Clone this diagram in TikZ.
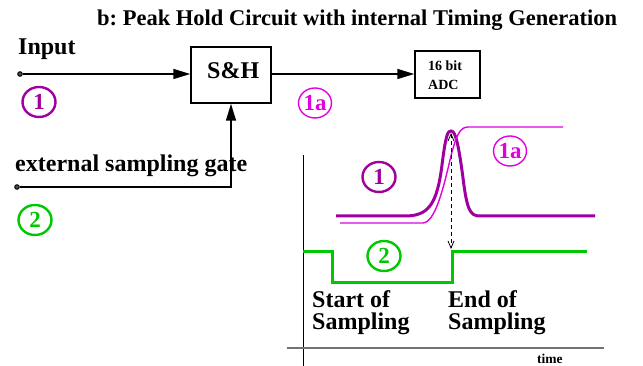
\documentclass[tikz,border=0pt]{standalone}
\usepackage{fontspec}
\setmainfont{Liberation Serif}
\usetikzlibrary{arrows.meta,shapes.geometric}
\definecolor{pur}{RGB}{160,0,160}
\definecolor{mag}{RGB}{224,0,224}
\definecolor{grn}{RGB}{0,200,0}
\frenchspacing
\begin{document}
\begin{tikzpicture}[x=1pt,y=-1pt,
  lbl/.style={font=\bfseries\fontsize{24}{26}\selectfont, inner sep=0pt, anchor=base west},
  ttl/.style={font=\bfseries\fontsize{22.5}{24}\selectfont, inner sep=0pt, anchor=base west},
  small/.style={font=\bfseries\fontsize{14}{16}\selectfont, inner sep=0pt, anchor=base west},
  tiny/.style={font=\bfseries\fontsize{13.5}{15}\selectfont, inner sep=0pt, anchor=base west},
  blk/.style={draw, line width=1.5pt, inner sep=0pt},
  wire/.style={line width=1.5pt},
  arr/.style={wire, -{Triangle[length=17pt,width=10pt]}},
  numc/.style={ellipse, draw, line width=2.4pt, minimum width=33pt, minimum height=30pt, inner sep=0pt,
     font=\bfseries\fontsize{23}{24}\selectfont},
  thinc/.style={numc, line width=1.4pt},
  dotc/.style={circle, draw, fill=black!70, line width=1pt, minimum size=4.5pt, inner sep=0pt}
]
\useasboundingbox (0,0) rectangle (643,366);

% title
\node[ttl] (title) at (97,26) {b: Peak Hold Circuit with internal Timing Generation};

% input
\node[lbl] (inlbl) at (18,55) {Input};
\node[dotc] (indot) at (20,74) {};
\node[blk, minimum width=80pt, minimum height=56pt] (sh) at (231,75) {};
\node[lbl] (shtxt) at (207,79) {S\&H};
\node[blk, minimum width=65pt, minimum height=47pt] (adc) at (447.5,74.5) {};
\node[small] (adc1) at (428,71) {16 bit};
\node[small] (adc2) at (428,90) {ADC};
\draw[arr] (indot) -- (indot -| sh.west);
\draw[arr] (sh.east |- indot) -- (indot -| adc.west);

% gate
\node[lbl] (gatelbl) at (15,172) {external sampling gate};
\node[dotc] (gdot) at (17,187) {};
\coordinate (gcorner) at (231,187);
\draw[arr] (gdot) -- (gcorner) -- (sh.south);

% circles
\node[numc, pur] (c1) at (39,102) {1};
\node[thinc, mag] (c1a) at (315,103) {1a};
\node[numc, grn] (c2) at (35,220) {2};

% graph axes
\coordinate (ytop) at (303,155);
\coordinate (ybot) at (303,366);
\draw[line width=0.8pt] (ytop) -- (ybot);
\coordinate (xl) at (287,348);
\coordinate (xr) at (604,348);
\draw[line width=1.4pt, black!55] (xl) -- (xr);
\node[tiny] (timelbl) at (537,363) {time};

% green gate signal
\draw[grn, line width=3pt] (303,252) -- (332,252) -- (332,283) -- (452,283) -- (452,252) -- (587,252);
\node[numc, grn] (g2) at (384,256) {2};

% pulse 1
\draw[pur, line width=3pt] (336,216) -- (405,216) .. controls (428,216) and (437,205) .. (442,165)
  .. controls (446,133) and (448,131) .. (451,131) .. controls (455,131) and (458,140) .. (463,178)
  .. controls (467,210) and (470,216) .. (480,216) -- (595,216);
% 1a held
\draw[mag, line width=1.4pt] (340,223) -- (423,223) .. controls (435,222) and (443,190) .. (450,160)
  .. controls (456,135) and (460,127) .. (468,127) -- (563,127);
\node[numc, pur] (g1) at (379,177) {1};
\node[thinc, mag] (g1a) at (510,151) {1a};

% dashed arrow
\coordinate (dtop) at (451,133);
\coordinate (dbot) at (451,249);
\draw[line width=0.8pt, dash pattern=on 4pt off 3pt, {Straight Barb[length=7pt,width=6pt]}-{Straight Barb[length=7pt,width=6pt]}] (dtop) -- (dbot);

% labels
\node[lbl] (s1) at (312,308) {Start of};
\node[lbl] (s2) at (312,330) {Sampling};
\node[lbl] (e1) at (448,308) {End of};
\node[lbl] (e2) at (448,330) {Sampling};
\end{tikzpicture}
\end{document}
